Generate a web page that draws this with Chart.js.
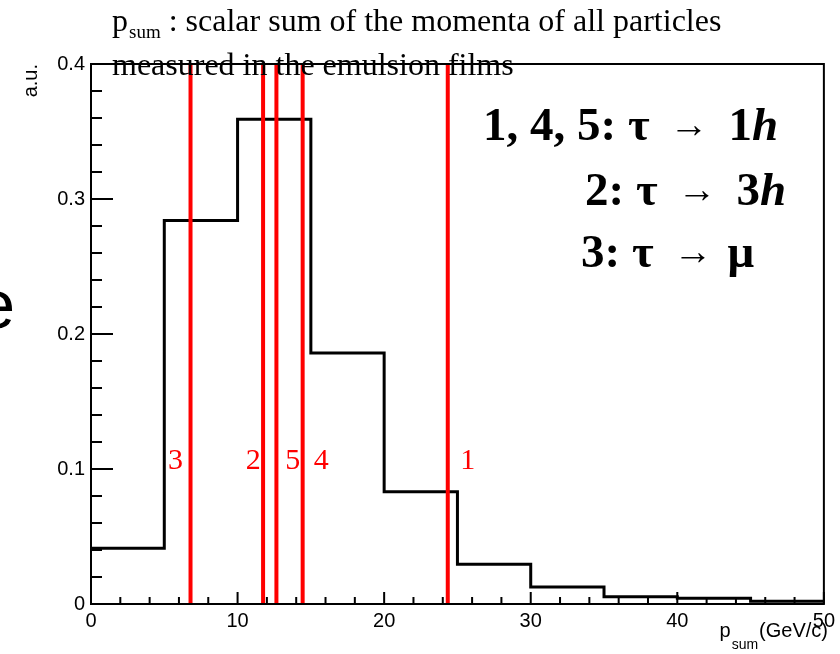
<!DOCTYPE html>
<html><head><meta charset="utf-8">
<script src="https://cdn.jsdelivr.net/npm/chart.js@4.4.1/dist/chart.umd.min.js"></script>
<style>html,body{margin:0;padding:0;background:#fff;overflow:hidden}canvas{display:block}</style>
</head><body>
<canvas id="c" width="840" height="654"></canvas>
<script>
// ---- data ----
const binEdges  = [0, 5, 10, 15, 20, 25, 30, 35, 40, 45, 50];
const binValues = [0.0413, 0.284, 0.359, 0.186, 0.0832, 0.0294, 0.0126, 0.0054, 0.0042, 0.0020];
const eventIds    = ['1', '2', '3', '4', '5'];
const eventPsum   = [24.34, 11.74, 6.79, 14.44, 12.65];
const eventLabelX = [25.2, 10.55, 5.25, 15.2, 13.25];
const eventLabelY = 0.1;
const yTickValues = [0, 0.1, 0.2, 0.3, 0.4];
const xTickValues = [0, 10, 20, 30, 40, 50];
const titleMain = 'p';
const titleSub = 'sum';
const titleRest = ' : scalar sum of the momenta of all particles';
const titleLine2 = 'measured in the emulsion films';
const xTitleMain = 'p', xTitleSub = 'sum', xTitleUnit = '(GeV/c)';
const yTitle = 'a.u.';
const legendLines = [
  ['1, 4, 5: τ', '→', '1', 'h'],
  ['2: τ', '→', '3', 'h'],
  ['3: τ', '→', 'μ']
];

// ---- chart ----
const histPoints = binValues.map((v, i) => ({x: binEdges[i], y: v}));
histPoints.push({x: binEdges[binEdges.length - 1], y: binValues[binValues.length - 1]});

const datasets = [{
  data: histPoints, borderColor: '#000', borderWidth: 3, stepped: true,
  pointRadius: 0, fill: false, order: 2
}];
eventPsum.forEach(v => datasets.push({
  data: [{x: v, y: 0}, {x: v, y: 0.4}], borderColor: '#ff0000', borderWidth: 4,
  pointRadius: 0, fill: false, order: 1
}));

const SERIF = '"Liberation Serif", "Times New Roman", serif';
const SANS = '"Liberation Sans", Arial, sans-serif';

const decor = {
  id: 'decor',
  afterDatasetsDraw(chart) {
    const {ctx, chartArea: a, scales: {x, y}} = chart;
    ctx.save();
    ctx.strokeStyle = '#000'; ctx.lineWidth = 2;
    ctx.beginPath();
    for (let i = 0; i <= 20; i++) {
      const py = y.getPixelForValue(i * 0.02);
      const len = (i % 5 === 0) ? 22 : 11;
      ctx.moveTo(a.left, py); ctx.lineTo(a.left + len, py);
    }
    for (let i = 0; i <= 25; i++) {
      const px = x.getPixelForValue(i * 2);
      const len = (i % 5 === 0) ? 12 : 7;
      ctx.moveTo(px, a.bottom); ctx.lineTo(px, a.bottom - len);
    }
    ctx.stroke();
    ctx.strokeRect(a.left, a.top, a.right - a.left, a.bottom - a.top);
    // event labels
    ctx.fillStyle = '#ff0000';
    ctx.font = '30px ' + SERIF;
    ctx.textAlign = 'left'; ctx.textBaseline = 'alphabetic';
    eventIds.forEach((t, i) => {
      ctx.fillText(t, x.getPixelForValue(eventLabelX[i]), y.getPixelForValue(eventLabelY));
    });
    ctx.restore();
  },
  afterDraw(chart) {
    const {ctx} = chart;
    ctx.save();
    ctx.fillStyle = '#000';
    ctx.textBaseline = 'alphabetic';
    ctx.textAlign = 'left';
    // title
    ctx.font = '32px ' + SERIF;
    ctx.fillText(titleMain, 112, 31);
    let tx = 112 + ctx.measureText(titleMain).width + 1;
    ctx.font = '19px ' + SERIF;
    ctx.fillText(titleSub, tx, 38);
    tx += ctx.measureText(titleSub).width;
    ctx.font = '32px ' + SERIF;
    ctx.fillText(titleRest, tx, 31);
    ctx.fillText(titleLine2, 112, 75);
    // legend
    const B = 'bold 47px ' + SERIF, BI = 'italic bold 47px ' + SERIF, A = '39px ' + SERIF;
    const starts = [[483, 140], [585, 205], [581, 267]];
    legendLines.forEach((segs, li) => {
      let lx = starts[li][0];
      const yb = starts[li][1];
      segs.forEach((s, si) => {
        let f = B, gap = 0, dy = 0;
        if (s === '→') { f = A; gap = 20; dy = -3; }
        else if (s === 'h') { f = BI; }
        else if (si > 0 && segs[si - 1] === '→') { gap = (s === 'μ') ? 15 : 20; }
        ctx.font = f;
        lx += gap;
        ctx.fillText(s, lx, yb + dy);
        lx += ctx.measureText(s).width;
      });
    });
    // x title
    ctx.font = '20px ' + SANS;
    ctx.textAlign = 'right';
    ctx.fillText(xTitleUnit, 828, 637);
    const uw = ctx.measureText(xTitleUnit).width;
    ctx.font = '14px ' + SANS;
    const sw = ctx.measureText(xTitleSub).width;
    ctx.fillText(xTitleSub, 828 - uw - 1, 649);
    ctx.font = '20px ' + SANS;
    ctx.fillText(xTitleMain, 828 - uw - sw - 2, 637);
    // y title
    ctx.save();
    ctx.translate(37, 64);
    ctx.rotate(-Math.PI / 2);
    ctx.font = '20px ' + SANS;
    ctx.textAlign = 'right';
    ctx.fillText(yTitle, 0, 0);
    ctx.restore();
    // cut-off slide letter at left edge
    ctx.font = '68px ' + SANS;
    ctx.textAlign = 'right';
    ctx.fillText('e', 15, 328);
    ctx.restore();
  }
};

new Chart(document.getElementById('c'), {
  type: 'line',
  data: {datasets},
  options: {
    responsive: false, animation: false, devicePixelRatio: 1,
    layout: {padding: {left: 0, top: 64, right: 15, bottom: 0}},
    plugins: {legend: {display: false}, tooltip: {enabled: false}, title: {display: false}},
    scales: {
      x: {
        type: 'linear', min: 0, max: 50,
        afterFit: s => { s.height = 50; },
        afterBuildTicks: s => { s.ticks = xTickValues.map(v => ({value: v})); },
        grid: {display: false, drawTicks: false}, border: {display: false},
        ticks: {autoSkip: false, maxRotation: 0, padding: 5, color: '#000',
          font: {family: SANS, size: 20}, callback: v => String(v)}
      },
      y: {
        type: 'linear', min: 0, max: 0.4,
        afterFit: s => { s.width = 91; },
        afterBuildTicks: s => { s.ticks = yTickValues.map(v => ({value: v})); },
        grid: {display: false, drawTicks: false}, border: {display: false},
        ticks: {autoSkip: false, padding: 6, color: '#000',
          font: {family: SANS, size: 20}, callback: v => (v === 0 ? '0' : v.toFixed(1))}
      }
    }
  },
  plugins: [decor]
});
</script>
</body></html>
